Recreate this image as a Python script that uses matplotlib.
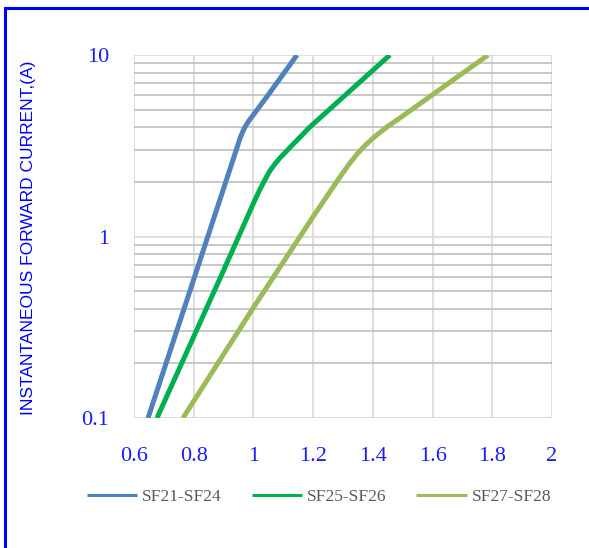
import matplotlib
matplotlib.use("Agg")
import matplotlib.pyplot as plt
from matplotlib.lines import Line2D
from matplotlib.ticker import FixedLocator, NullFormatter

# Data
sf21_v = [0.647, 0.80, 0.942, 0.955, 0.965, 0.975, 0.988, 1.012, 1.045, 1.146]
sf21_i = [0.1, 0.58, 2.98, 3.47, 3.81, 4.10, 4.41, 4.98, 5.89, 10.0]

sf25_v = [0.677, 0.90, 1.005, 1.022, 1.039, 1.055, 1.072, 1.089, 1.122, 1.189, 1.457]
sf25_i = [0.1, 0.65, 1.59, 1.82, 2.06, 2.30, 2.51, 2.71, 3.09, 4.01, 10.0]

sf27_v = [0.764, 1.0, 1.199, 1.290, 1.323, 1.350, 1.377, 1.407, 1.447, 1.491, 1.786]
sf27_i = [0.1, 0.406, 1.28, 2.13, 2.54, 2.88, 3.21, 3.56, 4.01, 4.50, 10.0]

series_names = ["SF21-SF24", "SF25-SF26", "SF27-SF28"]
x_ticks = [0.6, 0.8, 1.0, 1.2, 1.4, 1.6, 1.8, 2.0]
x_tick_labels = ["0.6", "0.8", "1", "1.2", "1.4", "1.6", "1.8", "2"]
y_ticks = [0.1, 1, 10]
y_tick_labels = ["0.1", "1", "10"]
y_label = "INSTANTANEOUS FORWARD CURRENT,(A)"

colors = ["#4f81bd", "#00b050", "#9bbb59"]

fig = plt.figure(figsize=(5.89, 5.48), dpi=100)
ax = fig.add_axes([134/589, 1-418/548, (552-134)/589, (418-55)/548])

for v, i, c, n in zip([sf21_v, sf25_v, sf27_v], [sf21_i, sf25_i, sf27_i], colors, series_names):
    ax.plot(v, i, color=c, lw=3.6, label=n, solid_capstyle="butt", solid_joinstyle="round", zorder=3)

ax.set_yscale("log")
ax.set_xlim(0.6, 2.0)
ax.set_ylim(0.1, 10)
ax.set_xticks(x_ticks)
ax.set_xticklabels(x_tick_labels)
ax.yaxis.set_major_locator(FixedLocator(y_ticks))
ax.set_yticklabels(y_tick_labels)
minors = [m * d for d in (0.1, 1) for m in range(2, 10)]
ax.yaxis.set_minor_locator(FixedLocator(minors))
ax.yaxis.set_minor_formatter(NullFormatter())

ax.grid(True, which="major", axis="both", color="#d9d9d9", lw=1.2, zorder=0)
ax.grid(True, which="minor", axis="y", color="#bfbfbf", lw=1.2, zorder=0)
for s in ax.spines.values():
    s.set_visible(False)
ax.axvline(0.6, color="#d9d9d9", lw=1.2, zorder=0)
ax.axhline(0.1, color="#d9d9d9", lw=1.2, zorder=0)

ax.tick_params(axis="both", which="both", length=0)
ax.tick_params(axis="x", pad=21)
ax.tick_params(axis="y", pad=18)
for lab in ax.get_xticklabels() + ax.get_yticklabels():
    lab.set_fontfamily("Liberation Serif")
    lab.set_fontsize(16)
    lab.set_color("#1a1aff")

fig.text(29/589, 1-238/548, y_label, rotation=90, ha="center", va="center",
         fontsize=12.5, color="#0000ff", family="Liberation Sans")

leg = fig.legend(loc="center", bbox_to_anchor=(319/589, 1-497/548), ncol=3, frameon=False,
                 handlelength=2.9, handletextpad=0.3, columnspacing=1.7,
                 prop={"family": "Liberation Serif", "size": 12.5})
for t in leg.get_texts():
    t.set_color("#595959")
for h in leg.get_lines():
    h.set_linewidth(2.2)

# blue frame
fig.add_artist(Line2D([4.5/589, 4.5/589], [0, 1-7.5/548], color="#0000ff", lw=2.2,
                      transform=fig.transFigure, solid_capstyle="projecting"))
fig.add_artist(Line2D([4.5/589, 1], [1-7.5/548, 1-7.5/548], color="#0000ff", lw=2.2,
                      transform=fig.transFigure, solid_capstyle="projecting"))

fig.savefig("out.png", dpi=100)
